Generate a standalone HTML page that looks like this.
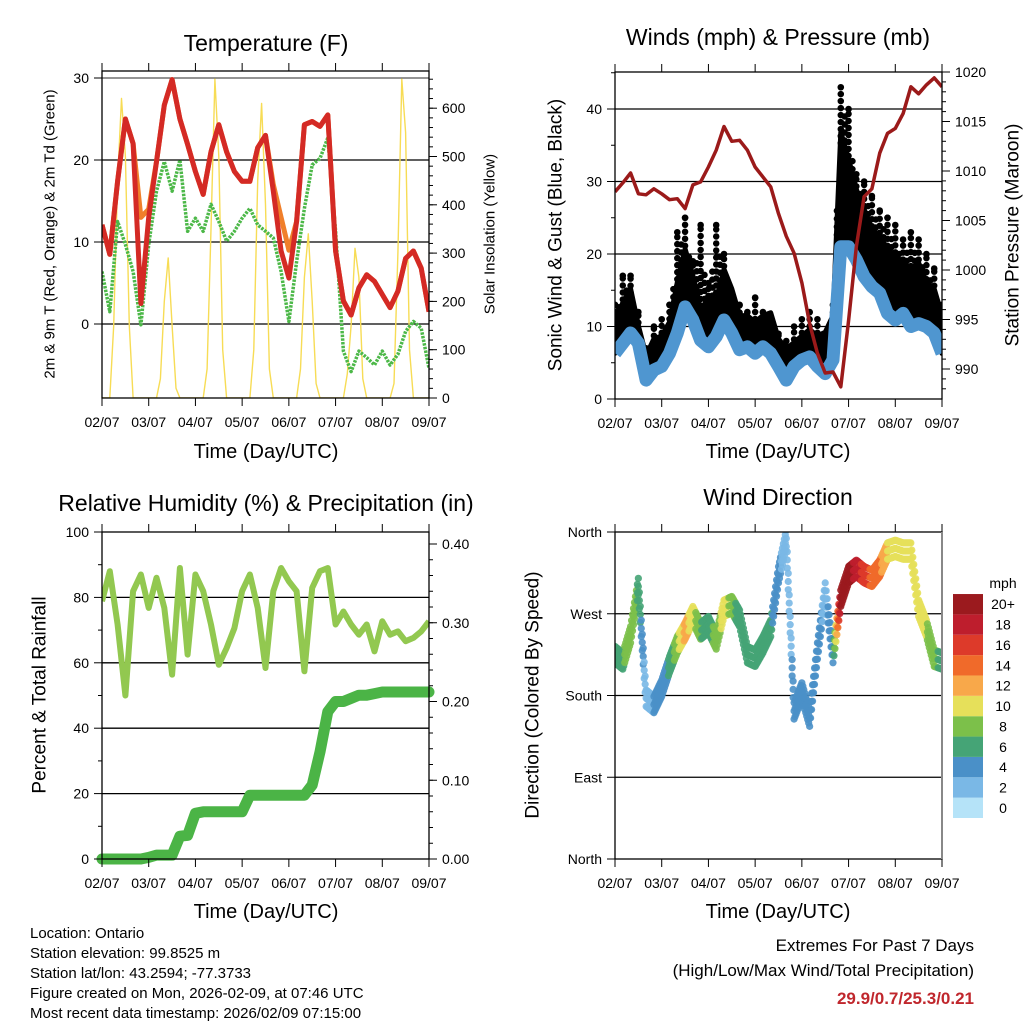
<!DOCTYPE html>
<html><head><meta charset="utf-8">
<style>
html,body{margin:0;padding:0;background:#fff;}
svg{display:block;font-family:"Liberation Sans",sans-serif;}
</style></head>
<body>
<svg id="chart" width="1024" height="1024" viewBox="0 0 1024 1024" xmlns="http://www.w3.org/2000/svg">
<defs>
<clipPath id="c1"><rect x="102" y="71" width="327" height="327"/></clipPath>
<clipPath id="c2"><rect x="615" y="72" width="327" height="327"/></clipPath>
<clipPath id="c3"><rect x="102" y="532" width="327" height="327"/></clipPath>
<clipPath id="c4"><rect x="615" y="532" width="327" height="327"/></clipPath>
</defs>
<g font-size="23" text-anchor="middle" dominant-baseline="central" fill="#000">
<text x="266" y="43">Temperature (F)</text>
<text x="778" y="37">Winds (mph) &amp; Pressure (mb)</text>
<text x="266" y="503">Relative Humidity (%) &amp; Precipitation (in)</text>
<text x="778" y="497">Wind Direction</text>
</g>
<g font-size="20" text-anchor="middle" dominant-baseline="central">
<text x="266" y="452">Time (Day/UTC)</text>
<text x="778" y="452">Time (Day/UTC)</text>
<text x="266" y="912">Time (Day/UTC)</text>
<text x="778" y="912">Time (Day/UTC)</text>
</g>
<g text-anchor="middle" dominant-baseline="central">
<text font-size="15" x="50" y="234" transform="rotate(-90 50 234)">2m &amp; 9m T (Red, Orange) &amp; 2m Td (Green)</text>
<text font-size="15" x="490" y="234" transform="rotate(-90 490 234)">Solar Insolation (Yellow)</text>
<text font-size="19" x="556" y="235" transform="rotate(-90 556 235)">Sonic Wind &amp; Gust (Blue, Black)</text>
<text font-size="19" x="1013" y="235" transform="rotate(-90 1013 235)">Station Pressure (Maroon)</text>
<text font-size="19" x="40" y="695" transform="rotate(-90 40 695)">Percent &amp; Total Rainfall</text>
<text font-size="19" x="533" y="695" transform="rotate(-90 533 695)">Direction (Colored By Speed)</text>
</g>
<g font-size="15">
<text x="30" y="938">Location: Ontario</text>
<text x="30" y="958">Station elevation: 99.8525 m</text>
<text x="30" y="978">Station lat/lon: 43.2594; -77.3733</text>
<text x="30" y="998">Figure created on Mon, 2026-02-09, at 07:46 UTC</text>
<text x="30" y="1018">Most recent data timestamp: 2026/02/09 07:15:00</text>
</g>
<g font-size="17" text-anchor="end">
<text x="974" y="951">Extremes For Past 7 Days</text>
<text x="974" y="976">(High/Low/Max Wind/Total Precipitation)</text>
<text x="974" y="1004" font-weight="bold" fill="#c0272d">29.9/0.7/25.3/0.21</text>
</g>
<g id="layer"></g>
</svg>
<script>
// ---- data ----
const dayLabels = ['02/07','03/07','04/07','05/07','06/07','07/07','08/07','09/07'];
const tempRed = [12.1,8.5,17.4,25,22,2.5,13,19.8,26.7,29.8,25,21.9,18.6,15.8,21,24.3,21,18.6,17.4,17.4,21.5,23,16.2,8.9,5.6,12.5,24.3,24.7,24.1,25.5,8.9,2.8,1.1,4.4,6,5.2,3.6,2,4,8,8.9,6.8,1.5];
const tempOrange = [12.1,8.5,17.4,25,22,13,14,19.8,26.7,29.8,25,21.9,18.6,15.8,21,24.3,21,18.6,17.4,17.4,21.5,23,17,13,9,12.5,24.3,24.7,24.1,25.5,8.9,2.8,1.1,4.4,6,5.2,3.6,2,4,8,8.9,6.8,1.5];
const dewGreen = [6.4,1.5,12.5,9.7,6.4,-0.1,9.7,16.2,19.8,16.2,20,11.3,12.9,11.3,14.6,12.5,10.1,11.3,12.9,14.1,12.1,11.3,10.5,6.4,0.3,7.6,14.1,19.4,20.2,22.7,11.3,-3.3,-5.8,-3.3,-4.1,-5,-3.3,-5,-3.7,-0.9,0.3,-0.5,-5.4];
const solar = [0,0,0,150,450,620,500,150,0,0, 0,0,0,0,0,40,200,290,150,20, 0,0,0,0,0,0,0,60,350,660, 500,100,0,0,0,0,0,0,0,100, 450,610,400,60,0,0,0,0,0,0, 0,60,250,340,200,30,0,0,0,0, 0,0,0,50,150,310,250,40,0,0, 0,0,0,0,0,30,300,660,550,100, 0,0,0,0,0];
const windSpeed = [6.3,7.7,9.1,7.7,2.6,4,4.5,6.3,9.1,12.7,10.9,8.1,7.2,8.6,10.9,9.1,6.8,7.2,6.3,7.2,6.3,4.5,2.6,4.5,5.4,5.8,4.5,3.5,5.4,21,21,19.2,16.9,15.5,14.6,11.8,10.9,11.8,10,10.4,10,9.1,6.3];
const gust = [9.1,11.8,13.7,8.6,4.5,6.8,7.2,9.1,14.6,19.2,15.5,10.9,12.3,11.8,16.4,13.7,10,10,9.1,10,10.4,6.8,5.4,6.3,7.2,8.1,7.2,7.7,10,35.3,31.6,27.4,24.7,21.9,21,19.2,18.3,17.3,16.4,17.3,14.6,13.7,10];
const gustMax = [13,17,17,12,7,10,11,13,23,25,19,24,16,24,20,13,13,12,14,12,11,9,8,10,11,12,11,9,13,43,40,31,30,28,26,25,24,22,23,22,20,18,13];
const pressure = [1007.9,1008.8,1009.8,1007.7,1007.6,1008.2,1007.7,1007.1,1007.2,1006.2,1008.6,1008.9,1010.4,1012.1,1014.5,1013.0,1013.1,1012.1,1010.4,1009.4,1008.4,1005.7,1003.4,1001.7,998.7,994.6,991.6,989.6,989.7,988.2,994.9,1002.4,1007.4,1008.2,1011.8,1013.8,1014.3,1015.8,1018.5,1017.8,1018.7,1019.4,1018.5];
const humidity = [78.8,88,71.7,50,81.9,87,76.8,86,76.8,56.4,89,62.5,87,81.9,71.7,59.4,64.5,70.6,81.9,87,76.8,58.4,81.9,89,84.9,81.9,57.4,82.9,88,89,71.7,75.7,71.7,68.6,71.7,63.5,72.7,68.6,69.6,66.6,67.6,69.6,72.7];
const precip = [0,0,0,0,0,0,0.002,0.005,0.005,0.005,0.029,0.03,0.058,0.06,0.06,0.06,0.06,0.06,0.06,0.081,0.081,0.081,0.081,0.081,0.081,0.081,0.081,0.094,0.136,0.187,0.2,0.2,0.204,0.208,0.208,0.21,0.212,0.212,0.212,0.212,0.212,0.212,0.212];
const windDir = [225,218,247,300,177,170,188,214,236,251,269,251,258,240,276,280,265,225,221,236,254,313,353,163,185,155,229,295,225,287,313,320,313,309,320,339,342,339,339,276,254,221,218];
const speedColors = ['#b5e3f8','#7ab8e6','#4a90c8','#45a476','#7cc04a','#e6e05a','#f8a84a','#f06a2a','#dd3a2a','#be1e2d','#9b1a1e'];
const speedLabels = ['0','2','4','6','8','10','12','14','16','18','20+'];

// ---- helpers ----
const NS = 'http://www.w3.org/2000/svg';
const layer = document.getElementById('layer');
function mk(tag, attrs, parent) {
  const e = document.createElementNS(NS, tag);
  for (const k in attrs) e.setAttribute(k, attrs[k]);
  (parent || layer).appendChild(e);
  return e;
}
const P1 = {x0:102,x1:429,y0:71,y1:398};
const P2 = {x0:615,x1:942,y0:72,y1:399};
const P3 = {x0:102,x1:429,y0:532,y1:859};
const P4 = {x0:615,x1:942,y0:532,y1:859};
function xAt(P, i, n) { return P.x0 + i/(n-1)*(P.x1-P.x0); }
const yTemp = v => 324 - v*8.2;
const ySolar = v => 398 - v*0.483;
const yWind = v => 399 - v*7.25;
const yPres = v => 72 + (1020 - v)*9.9;
const yRH = v => 859 - v*3.27;
const yPrecip = v => 859 - v*787.5;
const yDir = v => 859 - v*0.9083;
function pts(P, arr, yf) { return arr.map((v,i)=>xAt(P,i,arr.length).toFixed(1)+','+yf(v).toFixed(1)).join(' '); }

function frame(P, name, rightGrey) {
  const g = mk('g', {});
  
  
  dayLabels.forEach((d,i)=>{
    const x = P.x0 + i*(P.x1-P.x0)/7;
    mk('line',{x1:x,x2:x,y1:P.y1,y2:P.y1+8,stroke:'#000','stroke-width':1},g);
    mk('line',{x1:x,x2:x,y1:P.y0,y2:P.y0-8,stroke:'#000','stroke-width':1},g);
    const t = mk('text',{x:x,y:P.y1+24,'font-size':14,'text-anchor':'middle','dominant-baseline':'central'},g);
    t.textContent = d;
    
    
  });
  mk('rect',{x:P.x0,y:P.y0,width:P.x1-P.x0,height:P.y1-P.y0,fill:'none',stroke:'#000','stroke-width':1.3},g);
  if (rightGrey) mk('line',{x1:P.x1,x2:P.x1,y1:P.y0,y2:P.y1,stroke:'#888','stroke-width':2},g);
  return g;
}
function yTicks(P, g, vals, yf, labels, side, minor) {
  const sgn = side==='left' ? -1 : 1;
  const xe = side==='left' ? P.x0 : P.x1;
  if (minor) minor.forEach(v=>{ const y=yf(v); mk('line',{x1:xe,x2:xe+sgn*4,y1:y,y2:y,stroke:'#000','stroke-width':1},g); });
  vals.forEach((v,i)=>{
    const y = yf(v);
    mk('line',{x1:xe,x2:xe+sgn*8,y1:y,y2:y,stroke:'#000','stroke-width':1},g);
    if (labels[i] !== '') {
      const t = mk('text',{x:xe+sgn*13,y:y,'font-size':14,'text-anchor':side==='left'?'end':'start','dominant-baseline':'central'},g);
      t.textContent = labels[i];
      
      
    }
  });
}
function grid(P, vals, yf, color) {
  vals.forEach(v=>{
    const y = yf(v);
    const l = mk('line',{x1:P.x0,x2:P.x1,y1:y,y2:y,stroke:color||'#000','stroke-width':1.3});
    
    
  });
}
function range(a,b,s){ const r=[]; for(let v=a; v<=b+1e-9; v+=s) r.push(+v.toFixed(4)); return r; }

// ---- Panel 1: temperature ----
grid(P1, [0,10,20], yTemp);
grid(P1, [30], yTemp, '#555');
const g1 = mk('g',{'clip-path':'url(#c1)'});
const sol = mk('polyline',{points:pts(P1,solar,ySolar),fill:'none',stroke:'#f7dc55','stroke-width':1.4,'stroke-linejoin':'round'},g1);


const dew = mk('polyline',{points:pts(P1,dewGreen,yTemp),fill:'none',stroke:'#4cb848','stroke-width':3.5,'stroke-dasharray':'2.5 1.2','stroke-linejoin':'round'},g1);


const ora = mk('polyline',{points:pts(P1,tempOrange,yTemp),fill:'none',stroke:'#f07f2a','stroke-width':5,'stroke-linejoin':'round'},g1);


const red = mk('polyline',{points:pts(P1,tempRed,yTemp),fill:'none',stroke:'#d42a25','stroke-width':5,'stroke-linejoin':'round'},g1);


const f1 = frame(P1,'temperature');
yTicks(P1,f1,[0,10,20,30],yTemp,['0','10','20','30'],'left');
yTicks(P1,f1,range(0,600,100),ySolar,['0','100','200','300','400','500','600'],'right',range(0,660,20));

// ---- Panel 2: winds & pressure ----
grid(P2,[10,20,30,40],yWind);
const g2 = mk('g',{'clip-path':'url(#c2)'});
// gust band: from sonic wind up to gust
const upper = gust.map((v,i)=>xAt(P2,i,gust.length).toFixed(1)+','+yWind(v+1.5).toFixed(1));
const lower = windSpeed.map((v,i)=>xAt(P2,i,windSpeed.length).toFixed(1)+','+yWind(v).toFixed(1)).reverse();
const band = mk('polygon',{points:upper.concat(lower).join(' '),fill:'#000',stroke:'#000','stroke-width':5,'stroke-linejoin':'round'},g2);


gust.forEach((v,i)=>{
  const x = xAt(P2,i,gust.length);
  const l = mk('line',{x1:x,x2:x,y1:yWind(v),y2:yWind(gustMax[i]),stroke:'#000','stroke-width':6.5,'stroke-linecap':'round','stroke-dasharray':'0 7'},g2);
  
  
  if (i < gust.length-1) {
    const xm = (x + xAt(P2,i+1,gust.length))/2;
    const vm = (v + gust[i+1])/2;
    const mm = (gustMax[i] + gustMax[i+1])/2 - 2;
    const l2 = mk('line',{x1:xm,x2:xm,y1:yWind(vm),y2:yWind(Math.max(vm,mm)),stroke:'#000','stroke-width':6.5,'stroke-linecap':'round','stroke-dasharray':'0 8'},g2);
    
    
  }
  const c = mk('circle',{cx:x,cy:yWind(gustMax[i]),r:3.3,fill:'#000'},g2);
  
  
});
const wl = mk('polyline',{points:pts(P2,windSpeed,yWind),fill:'none',stroke:'#4f96d0','stroke-width':13,'stroke-linejoin':'round'},g2);


const pl = mk('polyline',{points:pts(P2,pressure,yPres),fill:'none',stroke:'#9b1a1a','stroke-width':3.5,'stroke-linejoin':'round'},g2);


const f2 = frame(P2,'winds');
yTicks(P2,f2,[0,10,20,30,40],yWind,['0','10','20','30','40'],'left',range(5,45,10));
yTicks(P2,f2,range(990,1020,5),yPres,['990','995','1000','1005','1010','1015','1020'],'right',range(988,1020,1));

// ---- Panel 3: humidity & precipitation ----
grid(P3,[20,40,60,80],yRH);
const g3 = mk('g',{'clip-path':'url(#c3)'});
const rl = mk('polyline',{points:pts(P3,humidity,yRH),fill:'none',stroke:'#92c850','stroke-width':6,'stroke-linejoin':'round'},g3);


const prl = mk('polyline',{points:pts(P3,precip,yPrecip),fill:'none',stroke:'#4bb446','stroke-width':11,'stroke-linejoin':'round','stroke-linecap':'round'});


const f3 = frame(P3,'humidity');
yTicks(P3,f3,[0,20,40,60,80,100],yRH,['0','20','40','60','80','100'],'left',range(10,90,20));
yTicks(P3,f3,[0,0.1,0.2,0.3,0.4],yPrecip,['0.00','0.10','0.20','0.30','0.40'],'right',range(0,0.41,0.02));

// ---- Panel 4: wind direction ----
grid(P4,[90,180,270],yDir);
const g4 = mk('g',{'clip-path':'url(#c4)'});
function colorFor(s){ return speedColors[Math.min(10, Math.max(0, Math.floor(s/2)))]; }
const nDir = windDir.length;
windDir.forEach((d,i)=>{
  const last = i === nDir-1;
  const steps = last ? 1 : 8;
  for (let s=0; s<steps; s++) {
    const f = s/steps;
    const dd = last ? d : d + (windDir[i+1]-d)*f;
    const sp = last ? windSpeed[i] : windSpeed[i] + (windSpeed[i+1]-windSpeed[i])*f;
    const col = colorFor(sp);
    [-9,0,9].forEach(off=>{
      const c = mk('circle',{cx:xAt(P4,i+f,nDir),cy:yDir(dd+off),r:3.6,fill:col,'fill-opacity':0.9},g4);
      
      
    });
  }
});
const f4 = frame(P4,'direction',true);
yTicks(P4,f4,[0,90,180,270,360],yDir,['North','East','South','West','North'],'left');

// colorbar
const cb = mk('g',{});


speedColors.forEach((c,i)=>{
  const y = 818 - (i+1)*20.36;
  const r = mk('rect',{x:953,y:y,width:30,height:20.36,fill:c},cb);
  
  
  const t = mk('text',{x:1003,y:y+10.2,'font-size':14,'text-anchor':'middle','dominant-baseline':'central'},cb);
  t.textContent = speedLabels[i];
  
  
});
const mph = mk('text',{x:1003,y:583,'font-size':14,'text-anchor':'middle','dominant-baseline':'central'},cb);
mph.textContent = 'mph';


</script>
</body></html>
